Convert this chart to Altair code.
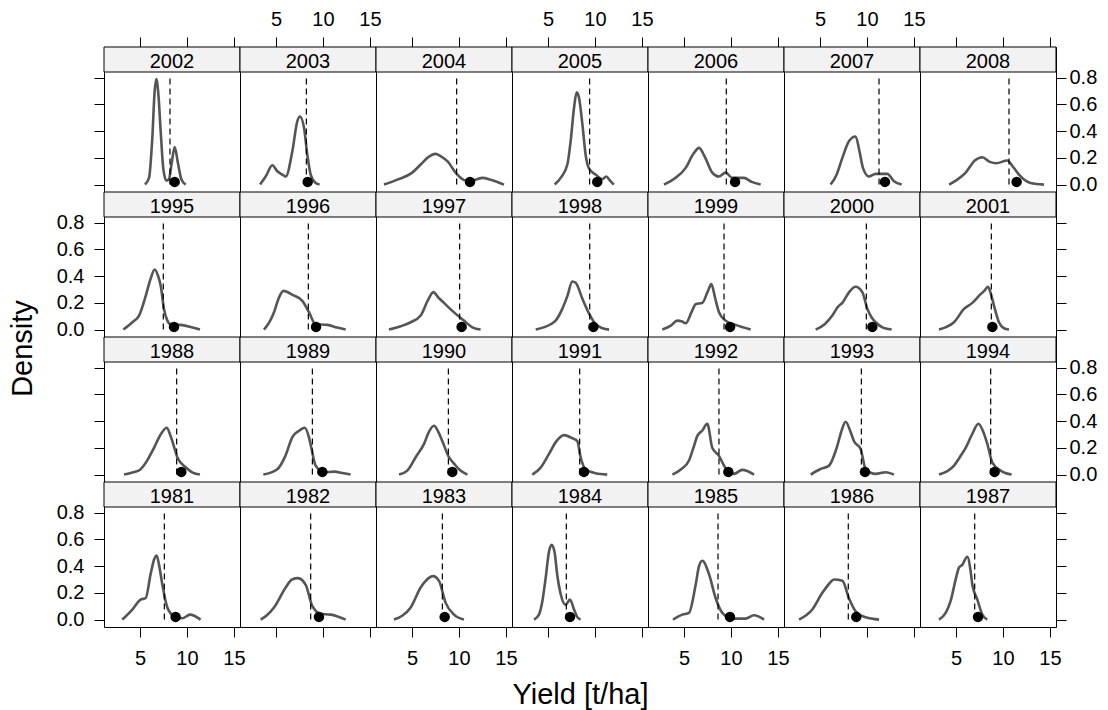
import altair as alt
import pandas as pd

FONT = "Liberation Sans"

# panel layout (top row first), as in the lattice display
ROWS = [
    [2002, 2003, 2004, 2005, 2006, 2007, 2008],
    [1995, 1996, 1997, 1998, 1999, 2000, 2001],
    [1988, 1989, 1990, 1991, 1992, 1993, 1994],
    [1981, 1982, 1983, 1984, 1985, 1986, 1987],
]

YEARS = list(range(1981, 2009))

# dashed reference line (x position) for each year, 1981..2008
MEAN_X = [7.59, 8.69, 8.23, 6.95, 8.62, 8.01, 6.99, 8.90, 8.87, 8.87, 8.37, 8.72, 9.40, 8.69,
          7.48, 8.44, 10.07, 9.44, 9.26, 9.93, 8.76, 8.19, 8.23, 9.75, 9.43, 9.50, 11.28, 10.64]
# black point (x position) for each year, 1981..2008
POINT_X = [8.79, 9.57, 8.48, 7.34, 9.89, 8.86, 7.34, 9.40, 9.93, 9.29, 8.83, 9.72, 9.79, 9.11,
           8.62, 9.26, 10.28, 9.83, 9.90, 10.57, 8.87, 8.69, 8.37, 11.17, 10.24, 10.43, 11.91, 11.45]
POINT_Y = 0.02
RULE_Y = [0.0, 0.8]

# density curves (yield, density)
c1981 = [(3.12, 0), (4.18, 0.075), (5.07, 0.15), (5.6, 0.16), (6.13, 0.34), (6.5, 0.45), (6.77, 0.48),
         (7.05, 0.4), (7.38, 0.26), (7.91, 0.09), (8.62, 0.025), (9.5, 0.01), (10.32, 0.037), (11.45, 0)]
c1982 = [(3.37, 0), (4.0, 0.03), (4.79, 0.09), (6.03, 0.24), (6.7, 0.3), (7.34, 0.31), (8.16, 0.26),
         (8.87, 0.1), (9.75, 0.043), (10.82, 0.037), (12.41, 0)]
c1983 = [(3.08, 0), (4.0, 0.03), (4.86, 0.09), (5.92, 0.24), (6.6, 0.3), (7.23, 0.325), (7.87, 0.29),
         (8.58, 0.125), (9.47, 0.037), (10.53, 0)]
c1984 = [(3.51, 0), (4.04, 0.037), (4.40, 0.137), (4.75, 0.31), (5.11, 0.51), (5.39, 0.56), (5.71, 0.5),
         (5.99, 0.33), (6.35, 0.19), (6.88, 0.11), (7.34, 0.15), (7.77, 0.075), (8.1, 0.02), (8.47, 0)]
c1985 = [(3.83, 0), (4.82, 0.037), (5.53, 0.05), (6.24, 0.26), (6.6, 0.4), (6.95, 0.44), (7.66, 0.34),
         (8.37, 0.16), (9.08, 0.05), (10.14, 0.007), (11.56, 0.007), (12.45, 0.032), (13.51, 0)]
c1986 = [(2.77, 0), (4.18, 0.075), (5.25, 0.2), (6.0, 0.27), (6.49, 0.3), (7.38, 0.29), (8.08, 0.16),
         (8.79, 0.062), (9.86, 0.017), (11.28, 0)]
c1987 = [(3.19, 0), (3.9, 0.05), (4.43, 0.14), (5.0, 0.31), (5.32, 0.39), (5.67, 0.41), (6.2, 0.47),
         (6.56, 0.36), (6.74, 0.26), (7.27, 0.15), (7.8, 0.037), (8.33, 0)]
c1988 = [(3.30, 0), (4.2, 0.015), (5.07, 0.04), (5.8, 0.11), (6.49, 0.2), (7.2, 0.3), (7.84, 0.35),
         (8.2, 0.3), (8.44, 0.25), (8.97, 0.13), (9.86, 0.055), (10.6, 0.015), (11.38, 0)]
c1989 = [(3.65, 0), (5.14, 0.04), (6.0, 0.14), (6.74, 0.28), (7.5, 0.33), (8.05, 0.35), (8.5, 0.28),
         (8.76, 0.2), (9.22, 0.067), (10.11, 0.017), (11.17, 0.022), (12.2, 0.01), (12.94, 0)]
c1990 = [(3.62, 0), (4.5, 0.03), (5.39, 0.13), (6.28, 0.23), (6.8, 0.32), (7.34, 0.365), (7.8, 0.32),
         (8.23, 0.25), (8.93, 0.13), (9.5, 0.08), (10.0, 0.04), (10.89, 0)]
c1991 = [(3.33, 0), (4.2, 0.05), (5.11, 0.155), (5.9, 0.25), (6.7, 0.295), (7.5, 0.275), (8.12, 0.25),
         (8.47, 0.13), (9.0, 0.04), (10.06, 0.01), (11.3, 0)]
c1992 = [(3.76, 0), (4.7, 0.04), (5.53, 0.105), (6.0, 0.2), (6.42, 0.29), (6.95, 0.33), (7.48, 0.38),
         (8.01, 0.2), (8.72, 0.14), (9.36, 0.055), (10.32, 0.005), (11.2, 0.035), (12.45, 0)]
c1993 = [(4.01, 0), (5.0, 0.04), (5.96, 0.067), (6.84, 0.215), (7.3, 0.33), (7.73, 0.395), (8.2, 0.33),
         (8.62, 0.25), (9.33, 0.19), (9.86, 0.04), (10.92, 0.005), (11.99, 0.018), (12.87, 0)]
c1994 = [(3.19, 0), (4.79, 0.067), (5.4, 0.13), (6.03, 0.2), (6.7, 0.3), (7.38, 0.38), (7.9, 0.32),
         (8.33, 0.23), (8.87, 0.09), (9.75, 0.03), (10.92, 0)]
c1995 = [(3.23, 0), (4.19, 0.055), (4.9, 0.105), (5.6, 0.25), (6.13, 0.38), (6.56, 0.45), (6.91, 0.405),
         (7.2, 0.33), (7.55, 0.155), (7.91, 0.067), (8.26, 0.04), (9.33, 0.035), (10.39, 0.02), (11.38, 0)]
c1996 = [(3.72, 0), (4.25, 0.05), (4.79, 0.13), (5.32, 0.24), (5.78, 0.29), (6.74, 0.26), (7.8, 0.215),
         (8.51, 0.13), (9.22, 0.04), (10.46, 0.035), (11.5, 0.015), (12.41, 0)]
c1997 = [(2.55, 0), (3.8, 0.025), (4.86, 0.055), (5.92, 0.105), (6.7, 0.22), (7.27, 0.28), (7.8, 0.24),
         (8.4, 0.2), (9.29, 0.14), (10.53, 0.067), (11.42, 0.017), (12.3, 0)]
c1998 = [(3.69, 0), (5.28, 0.04), (5.81, 0.067), (6.52, 0.155), (7.06, 0.25), (7.59, 0.36), (7.95, 0.35),
         (8.66, 0.23), (9.37, 0.12), (10.08, 0.04), (10.8, 0.01), (11.5, 0)]
c1999 = [(2.69, 0), (3.6, 0.03), (4.29, 0.067), (4.8, 0.06), (5.18, 0.047), (5.8, 0.13), (6.24, 0.19),
         (6.95, 0.2), (7.5, 0.28), (7.91, 0.34), (8.3, 0.24), (8.72, 0.13), (9.43, 0.067), (10.5, 0.035),
         (12.09, 0)]
c2000 = [(4.54, 0), (5.5, 0.04), (6.31, 0.105), (6.9, 0.17), (7.38, 0.2), (8.1, 0.28), (8.79, 0.32),
         (9.5, 0.28), (10.04, 0.155), (10.5, 0.09), (10.92, 0.055), (11.7, 0.015), (12.62, 0)]
c2001 = [(3.19, 0), (4.0, 0.02), (4.79, 0.055), (5.85, 0.155), (6.74, 0.2), (7.62, 0.265), (8.0, 0.29),
         (8.4, 0.32), (8.7, 0.27), (9.04, 0.18), (9.57, 0.055), (10.1, 0.01), (10.64, 0)]
c2002 = [(5.53, 0), (5.96, 0.05), (6.31, 0.35), (6.56, 0.7), (6.74, 0.79), (6.95, 0.68), (7.2, 0.4),
         (7.48, 0.12), (7.8, 0.03), (8.08, 0.04), (8.37, 0.16), (8.69, 0.28), (9.04, 0.16), (9.4, 0.04),
         (9.86, 0)]
c2003 = [(3.30, 0), (3.9, 0.06), (4.61, 0.145), (5.14, 0.1), (5.67, 0.075), (6.03, 0.06), (6.74, 0.25),
         (7.27, 0.475), (7.55, 0.51), (7.98, 0.425), (8.33, 0.225), (8.69, 0.075), (9.22, 0.012), (9.64, 0)]
c2004 = [(2.02, 0), (3.44, 0.037), (4.99, 0.0875), (5.92, 0.15), (6.63, 0.2), (7.52, 0.23), (8.0, 0.215),
         (8.76, 0.175), (9.75, 0.08), (10.5, 0.035), (11.17, 0.025), (12.48, 0.05), (13.36, 0.037),
         (14.79, 0)]
c2005 = [(5.71, 0), (6.35, 0.05), (7.06, 0.15), (7.41, 0.325), (7.77, 0.575), (8.05, 0.69), (8.3, 0.65),
         (8.66, 0.45), (9.01, 0.22), (9.37, 0.12), (10.07, 0.075), (10.78, 0.04), (11.2, 0.06),
         (11.6, 0.03), (12.0, 0)]
c2006 = [(2.87, 0), (4.0, 0.045), (5.18, 0.125), (6.0, 0.23), (6.6, 0.275), (7.2, 0.21), (8.01, 0.09),
         (8.72, 0.06), (9.43, 0.09), (10.14, 0.05), (11.38, 0.05), (12.2, 0.02), (13.16, 0)]
c2007 = [(6.13, 0), (6.8, 0.08), (7.38, 0.2), (8.08, 0.325), (8.79, 0.36), (9.2, 0.25), (9.57, 0.125),
         (10.21, 0.06), (10.92, 0.08), (12.16, 0.08), (12.87, 0.025), (13.69, 0)]
c2008 = [(4.26, 0), (5.1, 0.035), (6.03, 0.09), (7.0, 0.18), (7.8, 0.205), (8.6, 0.17), (9.29, 0.16),
         (10.46, 0.18), (11.1, 0.13), (11.7, 0.075), (12.94, 0.012), (14.36, 0)]

CURVES = [c1981, c1982, c1983, c1984, c1985, c1986, c1987, c1988, c1989, c1990, c1991, c1992, c1993,
          c1994, c1995, c1996, c1997, c1998, c1999, c2000, c2001, c2002, c2003, c2004, c2005, c2006,
          c2007, c2008]

X_TICKS = [5, 10, 15]
Y_TICKS = [0.0, 0.2, 0.4, 0.6, 0.8]
X_DOMAIN = [1.17, 15.64]
Y_DOMAIN = [-0.0555, 0.8425]

W, H, STRIP = 136, 145, 25

AXIS_STYLE = dict(domain=False, grid=False, ticks=True, tickSize=10, tickColor="black", tickWidth=1,
                  labelFont=FONT, labelFontSize=20, labelColor="black", labelFlush=False,
                  labelOverlap=False, labelBound=False, titleFont=FONT, titleFontSize=29,
                  titleFontWeight="normal", titleColor="black")


def x_axis(r, c):
    if r == 0:
        return alt.Axis(orient="top", values=X_TICKS, labels=(c % 2 == 1), labelPadding=8,
                        title=None, **AXIS_STYLE)
    if r == 3:
        if c == 3:
            return alt.Axis(orient="bottom", values=X_TICKS, labels=False, labelPadding=11,
                            title="Yield [t/ha]", titleX=W / 2, titleY=76.6, titleAlign="center",
                            titleBaseline="alphabetic", **AXIS_STYLE)
        return alt.Axis(orient="bottom", values=X_TICKS, labels=(c % 2 == 0), labelPadding=11,
                        title=None, **AXIS_STYLE)
    return None


def y_axis(r, c):
    if c == 0:
        if r == 1:
            return alt.Axis(orient="left", values=Y_TICKS, format=".1f", labels=True, labelPadding=10,
                            title="Density", titleAngle=270, titleX=-72.4, titleY=156,
                            titleAlign="center", titleBaseline="alphabetic", **AXIS_STYLE)
        return alt.Axis(orient="left", values=Y_TICKS, format=".1f", labels=(r % 2 == 1),
                        labelPadding=10, title=None, **AXIS_STYLE)
    if c == 6:
        return alt.Axis(orient="right", values=Y_TICKS, format=".1f", labels=(r % 2 == 0),
                        labelPadding=3, title=None, **AXIS_STYLE)
    return None


def panel(r, c, year):
    i = YEARS.index(year)
    xs = alt.Scale(domain=X_DOMAIN, nice=False, zero=False)
    ys = alt.Scale(domain=Y_DOMAIN, range=[H, STRIP], nice=False, zero=False)
    xa = x_axis(r, c)
    ya = y_axis(r, c)

    curve_df = pd.DataFrame(CURVES[i], columns=["x", "y"])
    rule_df = pd.DataFrame({"x": [MEAN_X[i]], "y": [RULE_Y[0]], "y2": [RULE_Y[1]]})
    point_df = pd.DataFrame({"x": [POINT_X[i]], "y": [POINT_Y]})
    label_df = pd.DataFrame({"label": [str(year)]})

    strip = alt.Chart(label_df).mark_rect(fill="#f2f2f2", stroke="black", strokeWidth=1).encode(
        x=alt.value(0), x2=alt.value(W), y=alt.value(0), y2=alt.value(STRIP))
    strip_text = alt.Chart(label_df).mark_text(
        font=FONT, fontSize=20, color="black", align="center", baseline="alphabetic").encode(
        x=alt.value(W / 2), y=alt.value(20.5), text="label:N")

    line = alt.Chart(curve_df).mark_line(
        color="#555555", strokeWidth=2.6, interpolate="monotone").encode(
        x=alt.X("x:Q", scale=xs, axis=xa),
        y=alt.Y("y:Q", scale=ys, axis=ya))
    rule = alt.Chart(rule_df).mark_rule(color="black", strokeWidth=1.2, strokeDash=[6, 4]).encode(
        x=alt.X("x:Q", scale=xs, axis=xa),
        y=alt.Y("y:Q", scale=ys, axis=ya),
        y2="y2:Q")
    pts = alt.Chart(point_df).mark_circle(color="black", opacity=1, size=110).encode(
        x=alt.X("x:Q", scale=xs, axis=xa),
        y=alt.Y("y:Q", scale=ys, axis=ya))

    return alt.layer(strip, strip_text, line, rule, pts).properties(width=W, height=H)


panels = [panel(r, c, year) for r, row in enumerate(ROWS) for c, year in enumerate(row)]

chart = alt.concat(*panels, columns=7, spacing=0, bounds="flush").properties(
    padding={"left": 0, "top": 0, "right": 0, "bottom": 0}
).configure(font=FONT).configure_view(stroke="black", strokeWidth=1)

chart.save("out.html", embed_options={"renderer": "svg", "actions": False})
